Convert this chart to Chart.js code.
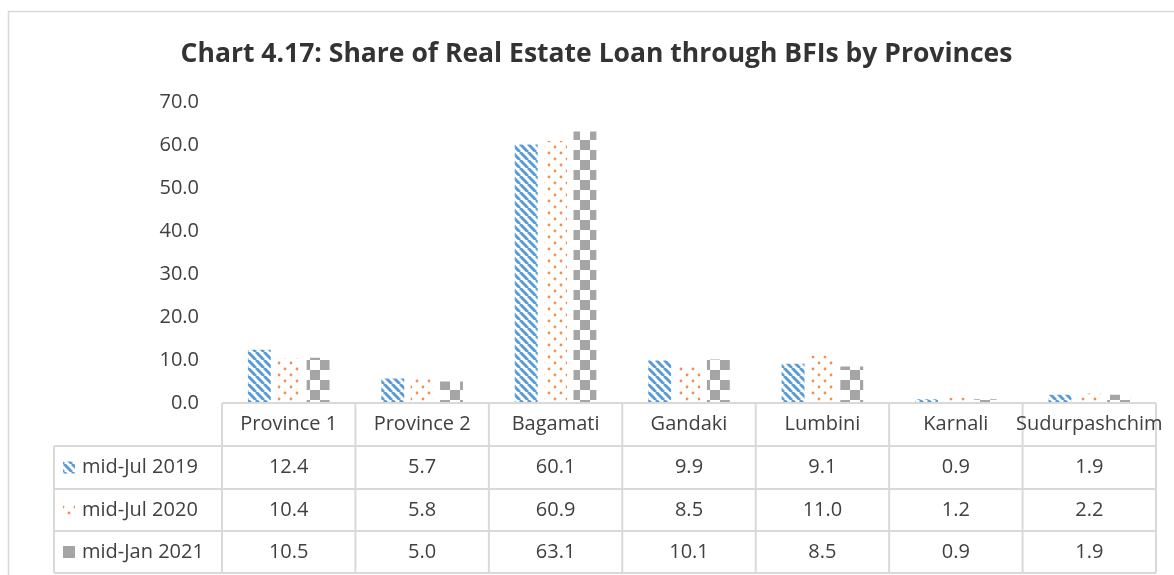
<!DOCTYPE html>
<html>
<head>
<meta charset="utf-8">
<script src="https://cdn.jsdelivr.net/npm/chart.js@4.4.0/dist/chart.umd.min.js"></script>
<style>
    body { margin: 0; background: #fff; }
    canvas { display: block; }
</style>
</head>
<body>
<canvas id="provinceChart" width="1174" height="575"></canvas>
<script>
// Chart data
const provinces = ['Province 1', 'Province 2', 'Bagamati', 'Gandaki', 'Lumbini', 'Karnali', 'Sudurpashchim'];
const seriesNames = ['mid-Jul 2019', 'mid-Jul 2020', 'mid-Jan 2021'];
const midJul2019 = [12.4, 5.7, 60.1, 9.9, 9.1, 0.9, 1.9];
const midJul2020 = [10.4, 5.8, 60.9, 8.5, 11.0, 1.2, 2.2];
const midJan2021 = [10.5, 5.0, 63.1, 10.1, 8.5, 0.9, 1.9];
const yTicks = [0, 10, 20, 30, 40, 50, 60, 70];

const FONT = '"Open Sans", sans-serif';
const TEXT_COLOR = '#404040';
const LINE_COLOR = '#d9d9d9';

// Fill patterns
function stripePattern() {
    const c = document.createElement('canvas');
    c.width = 8; c.height = 8;
    const g = c.getContext('2d');
    g.fillStyle = '#ffffff';
    g.fillRect(0, 0, 8, 8);
    g.strokeStyle = '#5b9bd5';
    g.lineWidth = 3;
    // diagonal going down to the right
    for (let k = -8; k <= 16; k += 8) {
        g.beginPath();
        g.moveTo(k, 0);
        g.lineTo(k + 8, 8);
        g.stroke();
    }
    return g.createPattern(c, 'repeat');
}

function dotPattern() {
    const c = document.createElement('canvas');
    c.width = 12; c.height = 12;
    const g = c.getContext('2d');
    g.fillStyle = '#ffffff';
    g.fillRect(0, 0, 12, 12);
    g.fillStyle = '#f0904f';
    [[3, 3], [9, 9]].forEach(([x, y]) => {
        g.beginPath();
        g.arc(x, y, 1.4, 0, Math.PI * 2);
        g.fill();
    });
    return g.createPattern(c, 'repeat');
}

function checkerPattern() {
    const c = document.createElement('canvas');
    c.width = 20; c.height = 20;
    const g = c.getContext('2d');
    g.fillStyle = '#ffffff';
    g.fillRect(0, 0, 20, 20);
    g.fillStyle = '#a5a5a5';
    g.fillRect(0, 0, 10, 10);
    g.fillRect(10, 10, 10, 10);
    return g.createPattern(c, 'repeat');
}

const fills = [stripePattern(), dotPattern(), checkerPattern()];
const keyFills = [fills[0], fills[1], '#a5a5a5'];
const seriesData = [midJul2019, midJul2020, midJan2021];

// Outer frame of the chart
const framePlugin = {
    id: 'frame',
    beforeDraw(chart) {
        const ctx = chart.ctx;
        ctx.save();
        ctx.strokeStyle = LINE_COLOR;
        ctx.lineWidth = 1.5;
        ctx.strokeRect(8.5, 11.5, chart.width + 20, chart.height + 20);
        ctx.restore();
    }
};

// Data table under the plot
const tablePlugin = {
    id: 'dataTable',
    afterDraw(chart) {
        const ctx = chart.ctx;
        const area = chart.chartArea;
        const n = provinces.length;
        const colW = (area.right - area.left) / n;
        const tableLeft = 54;
        const rows = [area.bottom, 446, 489, 531, 573];

        ctx.save();
        ctx.strokeStyle = LINE_COLOR;
        ctx.lineWidth = 2;

        // horizontal lines
        ctx.beginPath();
        ctx.moveTo(area.left, rows[0]);
        ctx.lineTo(area.right, rows[0]);
        for (let r = 1; r < rows.length; r++) {
            ctx.moveTo(tableLeft, rows[r]);
            ctx.lineTo(area.right, rows[r]);
        }
        // vertical lines
        for (let i = 0; i <= n; i++) {
            const x = area.left + i * colW;
            ctx.moveTo(x, rows[0]);
            ctx.lineTo(x, rows[rows.length - 1]);
        }
        ctx.moveTo(tableLeft, rows[1]);
        ctx.lineTo(tableLeft, rows[rows.length - 1]);
        ctx.stroke();

        ctx.fillStyle = TEXT_COLOR;
        ctx.font = '20px ' + FONT;
        ctx.textAlign = 'center';
        ctx.textBaseline = 'middle';

        // header labels
        provinces.forEach((p, i) => {
            ctx.fillText(p, area.left + (i + 0.5) * colW, (rows[0] + rows[1]) / 2);
        });

        // series rows
        seriesData.forEach((vals, s) => {
            const yMid = (rows[s + 1] + rows[s + 2]) / 2;
            // legend key
            ctx.fillStyle = keyFills[s];
            ctx.fillRect(tableLeft + 9, yMid - 6, 12, 12);
            ctx.fillStyle = TEXT_COLOR;
            ctx.textAlign = 'left';
            ctx.fillText(seriesNames[s], tableLeft + 28, yMid);
            ctx.textAlign = 'center';
            vals.forEach((v, i) => {
                ctx.fillText(v.toFixed(1), area.left + (i + 0.5) * colW, yMid);
            });
        });
        ctx.restore();
    }
};

const ctx = document.getElementById('provinceChart').getContext('2d');
new Chart(ctx, {
    type: 'bar',
    data: {
        labels: provinces,
        datasets: seriesNames.map((name, i) => ({
            label: name,
            data: seriesData[i],
            backgroundColor: fills[i],
            borderWidth: 0
        }))
    },
    options: {
        responsive: false,
        animation: false,
        categoryPercentage: 0.66,
        barPercentage: 0.78,
        layout: {
            padding: { top: 10, left: 37, right: 18, bottom: 172 }
        },
        plugins: {
            legend: { display: false },
            tooltip: { enabled: false },
            title: {
                display: true,
                text: 'Chart 4.17: Share of Real Estate Loan through BFIs by Provinces',
                color: '#333333',
                font: { family: FONT, size: 26.5, weight: 'bold', lineHeight: 1.2 },
                padding: { top: 29, bottom: 31 }
            }
        },
        scales: {
            x: {
                ticks: { display: false },
                grid: { display: false },
                border: { display: false },
                afterFit: scale => { scale.height = 0; }
            },
            y: {
                min: 0,
                max: 70,
                afterBuildTicks: scale => { scale.ticks = yTicks.map(v => ({ value: v })); },
                ticks: {
                    color: TEXT_COLOR,
                    font: { family: FONT, size: 20 },
                    padding: 15,
                    callback: value => value.toFixed(1)
                },
                grid: { display: false },
                border: { display: false },
                afterFit: scale => { scale.width = 185; }
            }
        }
    },
    plugins: [framePlugin, tablePlugin]
});
</script>
</body>
</html>
